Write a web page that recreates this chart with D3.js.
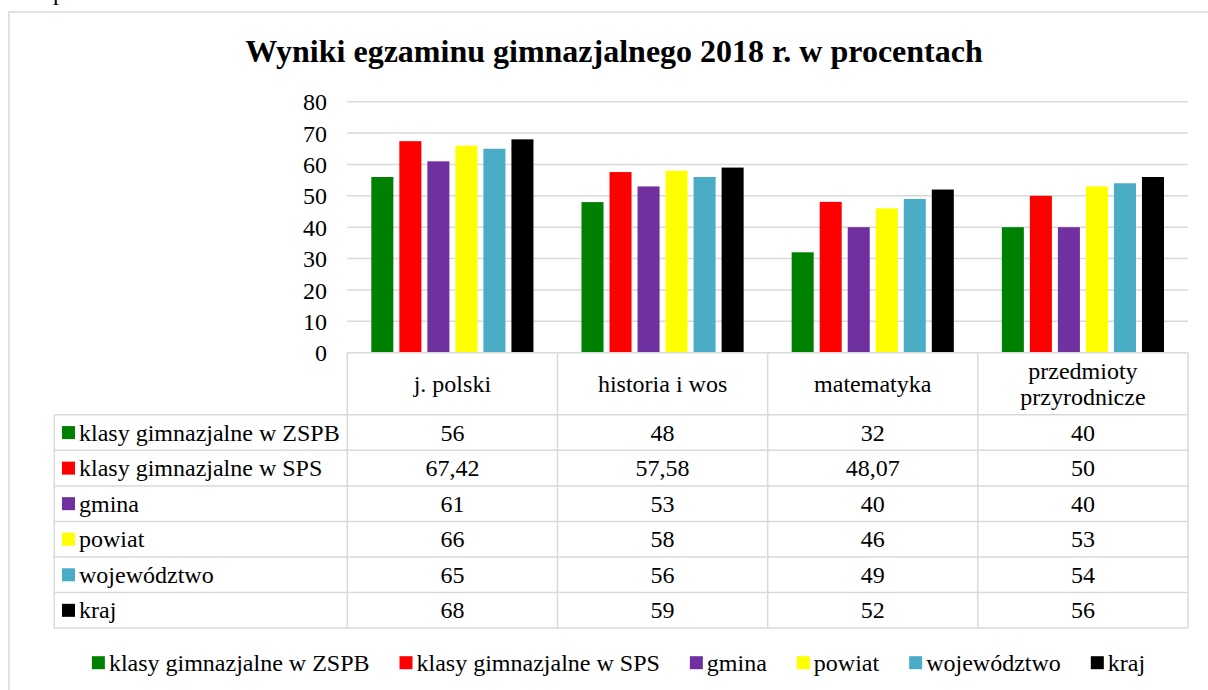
<!DOCTYPE html>
<html><head><meta charset="utf-8">
<script src="https://cdn.jsdelivr.net/npm/d3@7"></script>
<style>
html,body{margin:0;padding:0;background:#fff;}
text{font-family:"Liberation Serif","Times New Roman",serif;fill:#000;}
</style></head>
<body>
<svg id="chart" width="1208" height="690"></svg>
<script>
const title = "Wyniki egzaminu gimnazjalnego 2018 r. w procentach";
const categories = [["j. polski"], ["historia i wos"], ["matematyka"], ["przedmioty", "przyrodnicze"]];
const seriesNames = ["klasy gimnazjalne w ZSPB", "klasy gimnazjalne w SPS", "gmina", "powiat", "województwo", "kraj"];
const seriesColors = ["#008000", "#ff0000", "#7030a0", "#ffff00", "#4bacc6", "#000000"];
const zspb = [56, 48, 32, 40];
const sps = [67.42, 57.58, 48.07, 50];
const gmina = [61, 53, 40, 40];
const powiat = [66, 58, 46, 53];
const wojewodztwo = [65, 56, 49, 54];
const kraj = [68, 59, 52, 56];
const yTicks = [0, 10, 20, 30, 40, 50, 60, 70, 80];

const seriesValues = [zspb, sps, gmina, powiat, wojewodztwo, kraj];
const catKeys = categories.map(c => c.join(" "));

const svg = d3.select("#chart");
const grid = "#d9d9d9";
const fmt = v => String(v).replace(".", ",");

// outer frame
svg.append("rect").attr("x", 9).attr("y", 12).attr("width", 1300).attr("height", 800)
  .attr("fill", "none").attr("stroke", grid).attr("stroke-width", 1.5);
// document text fragment above frame
svg.append("text").attr("x", 53).attr("y", 0).attr("font-size", 24).text("p");

// title
svg.append("text").attr("x", 614).attr("y", 62).attr("text-anchor", "middle")
  .attr("font-size", 32).attr("font-weight", "bold").text(title);

const x0 = d3.scaleBand().domain(catKeys).range([347.3, 1188]).paddingInner(0).paddingOuter(0);
const x1 = d3.scaleBand().domain(seriesNames).range([0, x0.bandwidth()]).paddingInner(0.214).paddingOuter(0.857);
const y = d3.scaleLinear().domain([0, 80]).range([352.7, 101.7]);

// gridlines
svg.append("g").selectAll("line").data(yTicks.filter(t => t > 0)).join("line")
  .attr("x1", 347.3).attr("x2", 1188).attr("y1", d => y(d)).attr("y2", d => y(d))
  .attr("stroke", grid).attr("stroke-width", 1.5);

// y axis labels
const yAxis = d3.axisLeft(y).tickValues(yTicks).tickSize(0).tickPadding(0);
const ya = svg.append("g").attr("transform", "translate(327,0)").call(yAxis);
ya.select(".domain").remove();
ya.selectAll("text").attr("font-size", 24).attr("font-family", "Liberation Serif").attr("fill", "#000").attr("dy", "0.34em");

// bars
const barData = [];
seriesNames.forEach((s, si) => catKeys.forEach((c, ci) => barData.push({s, c, v: seriesValues[si][ci], col: seriesColors[si]})));
svg.append("g").selectAll("rect").data(barData).join("rect")
  .attr("x", d => x0(d.c) + x1(d.s)).attr("width", x1.bandwidth())
  .attr("y", d => y(d.v)).attr("height", d => y(0) - y(d.v))
  .attr("fill", d => d.col);

// data table
const tTop = 352.7, hdrBottom = 414.8, rowH = 35.55, tLeft = 54.3;
const nRows = seriesNames.length;
const tBottom = hdrBottom + nRows * rowH;
const tg = svg.append("g");
// top border of header (axis line)
tg.append("line").attr("x1", 347.3).attr("x2", 1188).attr("y1", tTop).attr("y2", tTop).attr("stroke", grid).attr("stroke-width", 1.5);
// horizontal row lines
for (let i = 0; i <= nRows; i++) {
  const yy = hdrBottom + i * rowH;
  tg.append("line").attr("x1", tLeft).attr("x2", 1188).attr("y1", yy).attr("y2", yy).attr("stroke", grid).attr("stroke-width", 1.5);
}
// vertical lines
const colEdges = catKeys.map(c => x0(c)).concat([x0.range()[1]]);
colEdges.forEach(xx => tg.append("line").attr("x1", xx).attr("x2", xx).attr("y1", tTop).attr("y2", tBottom).attr("stroke", grid).attr("stroke-width", 1.5));
tg.append("line").attr("x1", tLeft).attr("x2", tLeft).attr("y1", hdrBottom).attr("y2", tBottom).attr("stroke", grid).attr("stroke-width", 1.5);

// header labels
categories.forEach((lines, ci) => {
  const cx = x0(catKeys[ci]) + x0.bandwidth() / 2;
  const cy = (tTop + hdrBottom) / 2;
  const lh = 26.5;
  lines.forEach((ln, li) => {
    tg.append("text").attr("x", cx).attr("y", cy + (li - (lines.length - 1) / 2) * lh)
      .attr("dy", "0.34em").attr("text-anchor", "middle").attr("font-size", 24).text(ln);
  });
});
// rows
seriesNames.forEach((s, si) => {
  const cy = hdrBottom + si * rowH + rowH / 2;
  tg.append("rect").attr("x", 62).attr("y", cy - 6.5).attr("width", 13).attr("height", 13).attr("fill", seriesColors[si]);
  tg.append("text").attr("x", 79).attr("y", cy).attr("dy", "0.34em").attr("font-size", 24).text(s);
  catKeys.forEach((c, ci) => {
    tg.append("text").attr("x", x0(c) + x0.bandwidth() / 2).attr("y", cy).attr("dy", "0.34em")
      .attr("text-anchor", "middle").attr("font-size", 24).text(fmt(seriesValues[si][ci]));
  });
});

// bottom legend
const lg = svg.append("g");
const legY = 662.7;
let lx = 0;
const items = [];
seriesNames.forEach((s, si) => {
  const g = lg.append("g");
  g.append("rect").attr("x", 0).attr("y", legY - 6.5).attr("width", 13).attr("height", 13).attr("fill", seriesColors[si]);
  const t = g.append("text").attr("x", 17).attr("y", legY).attr("dy", "0.34em").attr("font-size", 24).text(s);
  const w = 17 + t.node().getComputedTextLength();
  items.push({g, w});
});
const gap = 30;
const totalW = d3.sum(items, d => d.w) + gap * (items.length - 1);
lx = 618.5 - totalW / 2;
items.forEach(it => { it.g.attr("transform", `translate(${lx},0)`); lx += it.w + gap; });
</script>
</body></html>
